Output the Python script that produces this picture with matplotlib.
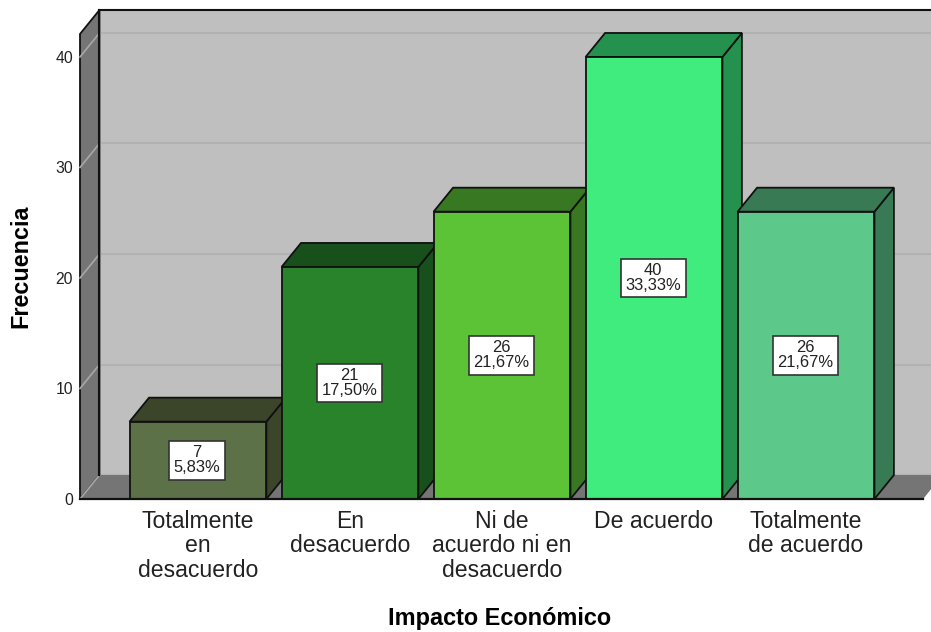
import matplotlib
matplotlib.use('Agg')
import matplotlib.pyplot as plt
from matplotlib.patches import Polygon

categories = ['Totalmente\nen\ndesacuerdo', 'En\ndesacuerdo', 'Ni de\nacuerdo ni en\ndesacuerdo',
              'De acuerdo', 'Totalmente\nde acuerdo']
counts = [7, 21, 26, 40, 26]
percents = ['5,83%', '17,50%', '21,67%', '33,33%', '21,67%']
y_ticks = [0, 10, 20, 30, 40]
front_colors = ['#5c7148', '#28832b', '#5cc337', '#41ec7e', '#5cc98b']
side_colors = ['#3a452a', '#17501a', '#387822', '#25914e', '#377a54']

W, H = 931, 632
plt.rcParams['font.family'] = ['Liberation Sans', 'DejaVu Sans']
fig = plt.figure(figsize=(W / 100, H / 100), dpi=100)

# axes sits on the front plane of the fake 3d box
ax = fig.add_axes([80 / W, (H - 499) / H, (W - 80) / W, 489 / H])
ax.set_xlim(-0.776, 4.822)
ax.set_ylim(0, 44.25)
for s in ax.spines.values():
    s.set_visible(False)
ax.patch.set_visible(False)

# depth of the box in data units
dx = 0.128
dy = 2.17
x0 = -0.776
x1 = 4.77
top = 44.25 - dy
bar_w = 0.9
edge = '#111111'

# back wall, left wall, floor
ax.add_patch(Polygon([(x0 + dx, dy), (x0 + dx + 6, dy), (x0 + dx + 6, top + dy), (x0 + dx, top + dy)],
                     fc='#bfbfbf', ec='none', zorder=1, clip_on=False))
ax.add_patch(Polygon([(x0, 0), (x0 + dx, dy), (x0 + dx, top + dy), (x0, top)],
                     fc='#757575', ec=edge, lw=1.3, zorder=2, clip_on=False))
ax.add_patch(Polygon([(x0, 0), (x0 + dx, dy), (x1 + dx, dy), (x1, 0)],
                     fc='#757575', ec='none', zorder=2, clip_on=False))

# grid lines run along the wall
for v in y_ticks:
    ax.plot([x0, x0 + dx], [v, v + dy], color='#a8a8a8', lw=1.2, zorder=3, clip_on=False)
    ax.plot([x0 + dx, x1 + 1], [v + dy, v + dy], color='#b2b2b2', lw=1.5, zorder=1.5, clip_on=False)
ax.plot([x0 + dx, x0 + dx], [dy, top + dy], color=edge, lw=1.5, zorder=4, clip_on=False)
ax.plot([x0 + dx, x1 + 1], [top + dy, top + dy], color=edge, lw=1.5, zorder=4, clip_on=False)

# bars, later ones painted over the earlier ones
for i, n in enumerate(counts):
    l = i - bar_w / 2
    r = i + bar_w / 2
    z = 5 + i
    ax.add_patch(Polygon([(r, 0), (r + dx, dy), (r + dx, n + dy), (r, n)],
                         fc=side_colors[i], ec=edge, lw=1.3, zorder=z))
    ax.add_patch(Polygon([(l, n), (l + dx, n + dy), (r + dx, n + dy), (r, n)],
                         fc=side_colors[i], ec=edge, lw=1.3, zorder=z))
    ax.bar(i, n, width=bar_w, color=front_colors[i], edgecolor=edge, linewidth=1.3, zorder=z)
    ax.text(i - 0.005, n / 2, f'{n}\n{percents[i]}', ha='center', va='center', fontsize=11.9,
            linespacing=1.0, color='#222222', zorder=20,
            bbox=dict(boxstyle='square,pad=0.27', fc='white', ec='#333333', lw=1.2))

ax.plot([x0, x1], [0, 0], color=edge, lw=1.6, zorder=15, clip_on=False)

ax.set_xticks(range(len(categories)))
ax.set_xticklabels(categories, fontsize=16.6, linespacing=1.07, color='#222222')
ax.set_yticks(y_ticks)
ax.set_yticklabels([str(v) for v in y_ticks], fontsize=11.3, color='#222222')
ax.tick_params(axis='x', length=0, pad=8)
ax.tick_params(axis='y', length=0, pad=5)

fig.text(500 / W, 1 - 618 / H, 'Impacto Económico', ha='center', va='center', fontsize=16.9, fontweight='bold')
fig.text(21 / W, 1 - 266 / H, 'Frecuencia', ha='center', va='center', rotation=90, fontsize=16.8, fontweight='bold')

fig.savefig('out.png', dpi=100, facecolor='white')
